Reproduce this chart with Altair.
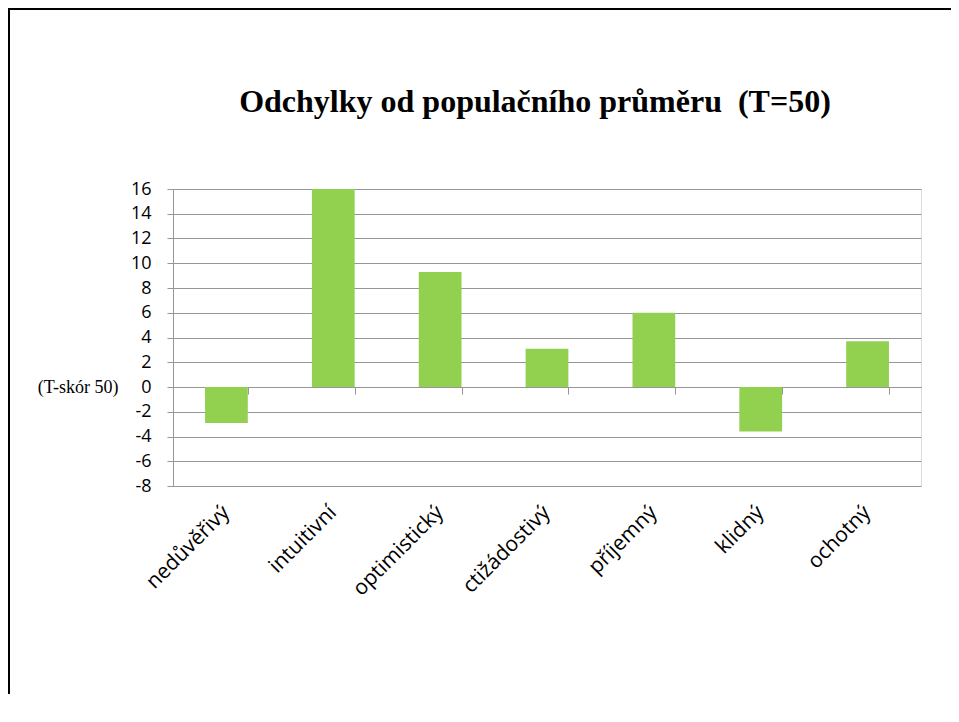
import altair as alt
import pandas as pd

categories = ["nedůvěřivý", "intuitivní", "optimistický", "ctižádostivý", "příjemný", "klidný", "ochotný"]
values = [-2.9, 16.0, 9.3, 3.1, 6.0, -3.6, 3.7]
y_ticks = list(range(-8, 17, 2))
title_text = "Odchylky od populačního průměru\u00a0 (T=50)"
side_label = "(T-skór 50)"

W, H = 748, 297
PAD = {"left": 165, "top": 181, "right": 30, "bottom": 208}

df = pd.DataFrame({"cat": categories, "val": values})

xscale = alt.Scale(domain=categories, paddingInner=0.6, paddingOuter=0.3)
yscale = alt.Scale(domain=[-8, 16], nice=False, zero=False)

yaxis = alt.Axis(values=y_ticks, labelOverlap=False,
                 labelExpr="datum.value < 0 ? '-' + abs(datum.value) : '' + datum.value",
                 grid=True, gridColor="#969696", gridWidth=1,
                 domain=True, domainColor="#969696", ticks=True, tickColor="#969696",
                 tickSize=6, labelFont="Open Sans", labelFontSize=18,
                 labelColor="black", labelPadding=16,
                 title=side_label, titleAngle=0, titleFont="Liberation Serif",
                 titleFontSize=18, titleFontWeight="normal", titleColor="black",
                 titleAlign="right", titleBaseline="middle",
                 titleX=-55, titleY=H * 16 / 24)

bars = alt.Chart(df).mark_bar(color="#92D050").encode(
    x=alt.X("cat:N", sort=categories, scale=xscale, title=None,
            axis=alt.Axis(orient="bottom", domain=False, ticks=False, grid=False,
                          labelAngle=-45, labelAlign="right", labelBaseline="middle",
                          labelFont="Open Sans", labelFontSize=21, labelColor="black",
                          labelPadding=23)),
    y=alt.Y("val:Q", scale=yscale, axis=yaxis),
)

zero_axis = alt.Chart(df).mark_point(opacity=0).encode(
    x=alt.X("cat:N", sort=categories, scale=xscale, title=None,
            axis=alt.Axis(orient="bottom", offset=-H * 8 / 24, labels=False, grid=False,
                          domain=True, domainColor="#969696", ticks=True, tickColor="#969696",
                          tickSize=7, tickBand="extent")),
)

title = alt.Chart(pd.DataFrame({"t": [title_text]})).mark_text(
    font="Liberation Serif", fontSize=32, fontWeight="bold", align="center",
    baseline="alphabetic", color="black"
).encode(text="t:N", x=alt.value(362), y=alt.value(-77))

frame_df = pd.DataFrame({"a": [0]})
frame_top = alt.Chart(frame_df).mark_rect(color="black", strokeWidth=0).encode(
    x=alt.value(-PAD["left"]), x2=alt.value(W + PAD["right"]),
    y=alt.value(-PAD["top"]), y2=alt.value(-PAD["top"] + 2),
)
frame_left = alt.Chart(frame_df).mark_rect(color="black", strokeWidth=0).encode(
    x=alt.value(-PAD["left"]), x2=alt.value(-PAD["left"] + 2),
    y=alt.value(-PAD["top"]), y2=alt.value(H + PAD["bottom"]),
)

chart = alt.layer(frame_top, frame_left, bars, zero_axis, title).resolve_axis(x="independent").properties(
    width=W, height=H,
    autosize=alt.AutoSizeParams(type="none"),
    padding=PAD,
).configure_view(stroke=None).configure(background="white")

chart.save("out.html", embed_options={"renderer": "svg", "actions": False})
